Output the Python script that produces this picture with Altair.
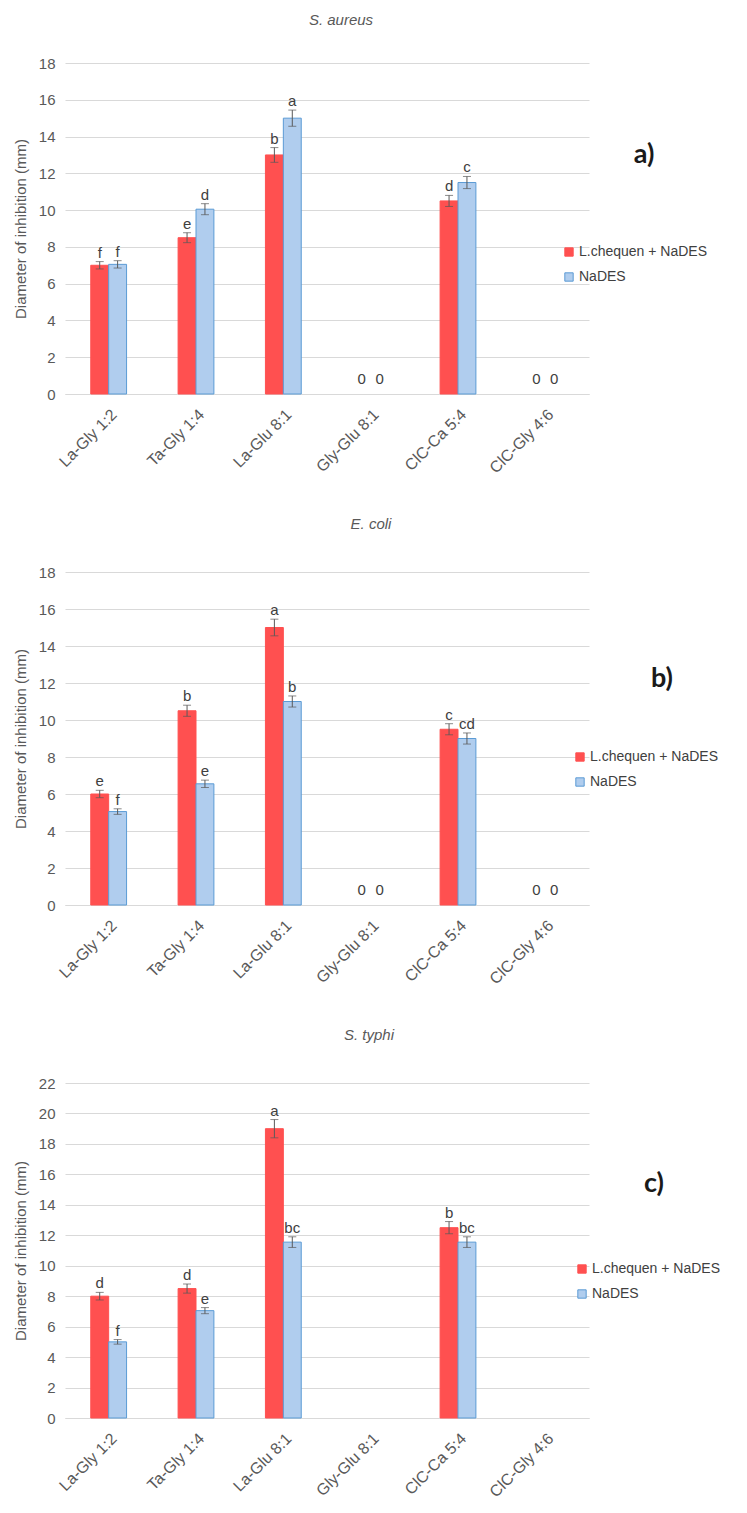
import altair as alt
import pandas as pd

categories = ["La-Gly 1:2", "Ta-Gly 1:4", "La-Glu 8:1", "Gly-Glu 8:1", "ClC-Ca 5:4", "ClC-Gly 4:6"]
series = ["L.chequen + NaDES", "NaDES"]

# S. aureus
aureus_lc = [7.0, 8.5, 13.0, 0, 10.5, 0]
aureus_lc_err = [0.2, 0.27, 0.4, 0, 0.3, 0]
aureus_lc_let = ["f", "e", "b", "0", "d", "0"]
aureus_nd = [7.05, 10.05, 15.0, 0, 11.5, 0]
aureus_nd_err = [0.2, 0.3, 0.44, 0, 0.33, 0]
aureus_nd_let = ["f", "d", "a", "0", "c", "0"]

# E. coli
coli_lc = [6.0, 10.5, 15.0, 0, 9.5, 0]
coli_lc_err = [0.2, 0.3, 0.45, 0, 0.3, 0]
coli_lc_let = ["e", "b", "a", "0", "c", "0"]
coli_nd = [5.05, 6.55, 11.0, 0, 9.0, 0]
coli_nd_err = [0.15, 0.2, 0.3, 0, 0.3, 0]
coli_nd_let = ["f", "e", "b", "0", "cd", "0"]

# S. typhi
typhi_lc = [8.0, 8.5, 19.0, 0, 12.5, 0]
typhi_lc_err = [0.25, 0.3, 0.6, 0, 0.4, 0]
typhi_lc_let = ["d", "d", "a", "", "b", ""]
typhi_nd = [5.0, 7.05, 11.55, 0, 11.55, 0]
typhi_nd_err = [0.15, 0.2, 0.35, 0, 0.35, 0]
typhi_nd_let = ["f", "e", "bc", "", "bc", ""]

RED = "#FF5050"
LIGHTBLUE = "#B0CDEE"
BLUE = "#5B9BD5"
GRID = "#D9D9D9"
TXT = "#595959"
FONT = "Liberation Sans"


def panel(title, lc, lce, lcl, nd, nde, ndl, ymax, height, tag, tagx, tagy,
          legx, legy, title_dx, title_offset):
    df = pd.DataFrame({
        "category": categories * 2,
        "series": [series[0]] * 6 + [series[1]] * 6,
        "value": lc + nd,
        "err": lce + nde,
        "letter": lcl + ndl,
    })
    xenc = alt.X("category:N", sort=categories,
                 scale=alt.Scale(domain=categories, paddingInner=0.59, paddingOuter=0.295),
                 axis=alt.Axis(title=None, labelAngle=-45, labelFontSize=16,
                               labelColor=TXT, ticks=False, domainColor=GRID,
                               labelPadding=12, grid=False, labelFont=FONT))
    xoff = alt.XOffset("series:N", sort=series,
                       scale=alt.Scale(domain=series, paddingInner=0, paddingOuter=0))
    yscale = alt.Scale(domain=[0, ymax], nice=False)
    yaxis = alt.Axis(values=list(range(0, ymax + 1, 2)),
                     title="Diameter of inhibition (mm)",
                     titleFontSize=15, titleFontWeight="normal",
                     titleColor=TXT, titleFont=FONT, titlePadding=10,
                     labelFontSize=15, labelColor=TXT, labelFont=FONT,
                     labelPadding=10, ticks=False, domain=False,
                     grid=True, gridColor=GRID, labelOverlap=False)
    base = alt.Chart(df).encode(x=xenc, xOffset=xoff)

    leg = alt.Legend(title=None, orient="none", legendX=legx, legendY=legy,
                     symbolType="square", symbolSize=70, symbolStrokeWidth=1,
                     labelFontSize=14, labelColor="#404040", labelFont=FONT,
                     rowPadding=11, labelOffset=3)
    bars = base.transform_filter("datum.value > 0").mark_bar(strokeWidth=1).encode(
        y=alt.Y("value:Q", scale=yscale, axis=yaxis),
        fill=alt.Fill("series:N", sort=series,
                      scale=alt.Scale(domain=series, range=[RED, LIGHTBLUE]),
                      legend=leg),
        stroke=alt.Stroke("series:N", sort=series,
                          scale=alt.Scale(domain=series, range=[RED, BLUE]),
                          legend=leg),
    )
    eb = base.transform_filter("datum.value > 0").transform_calculate(
        lo="datum.value - datum.err", hi="datum.value + datum.err")
    rules = eb.mark_rule(color="#595959", strokeWidth=1).encode(
        y=alt.Y("lo:Q", scale=yscale, axis=yaxis), y2="hi:Q")
    cap_lo = eb.mark_tick(color="#595959", size=8, thickness=1).encode(
        y=alt.Y("lo:Q", scale=yscale, axis=yaxis))
    cap_hi = eb.mark_tick(color="#595959", size=8, thickness=1).encode(
        y=alt.Y("hi:Q", scale=yscale, axis=yaxis))
    # letters sit just above the error bar; the "0" labels of empty bars sit a little higher
    letters = base.transform_calculate(
        top="datum.value + datum.err + (datum.value == 0 ? 0.3 : 0)"
    ).mark_text(
        fontSize=15, color="#404040", baseline="alphabetic", dy=-4, font=FONT
    ).encode(y=alt.Y("top:Q", scale=yscale, axis=yaxis), text="letter:N")
    tagc = alt.Chart(pd.DataFrame({"t": [tag]})).mark_text(
        fontSize=27, fontWeight="bold", font="Lato", color="#1A1A1A",
        baseline="middle", align="center"
    ).encode(text="t:N", x=alt.value(tagx), y=alt.value(tagy))

    return alt.layer(bars, rules, cap_lo, cap_hi, letters, tagc).properties(
        width=524, height=height,
        title=alt.TitleParams(title, fontStyle="italic", fontSize=15,
                              fontWeight="normal", color=TXT, font=FONT,
                              anchor="middle", frame="group", dx=title_dx,
                              offset=title_offset),
    )


pa = panel("S. aureus", aureus_lc, aureus_lc_err, aureus_lc_let,
           aureus_nd, aureus_nd_err, aureus_nd_let, 18, 331, "a)", 579, 92,
           497, 182, 14, 28)
pb = panel("E. coli", coli_lc, coli_lc_err, coli_lc_let,
           coli_nd, coli_nd_err, coli_nd_let, 18, 333, "b)", 597, 107,
           508, 178, 44, 33)
pc = panel("S. typhi", typhi_lc, typhi_lc_err, typhi_lc_let,
           typhi_nd, typhi_nd_err, typhi_nd_let, 22, 335, "c)", 589, 101,
           510, 179, 42, 33)

chart = alt.vconcat(pa, pb, pc, spacing=41).resolve_scale(
    fill="independent", stroke="independent", y="independent", x="independent"
).resolve_legend(fill="independent", stroke="independent").configure(
    font=FONT, background="white"
).configure_view(stroke=None)

chart.save("out.html", embed_options={"renderer": "svg", "actions": False})
